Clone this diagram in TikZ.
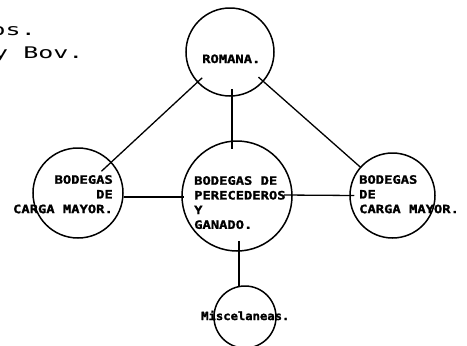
\documentclass[tikz,border=0pt]{standalone}
\usepackage{fontspec}
\newfontfamily\lblfont[FakeStretch=1.2, BoldFeatures={FakeBold=1.5}]{DejaVu Sans Mono}
\newfontfamily\misfont[FakeStretch=1.08, BoldFeatures={FakeBold=1.8}]{DejaVu Sans Mono}
\newfontfamily\topfont[FakeStretch=1.56]{DejaVu Sans Mono}
\usetikzlibrary{calc}
\begin{document}
\begin{tikzpicture}[x=1pt,y=-1pt,
  circ/.style={draw, circle, minimum size=#1, inner sep=0pt, line width=1.5pt},
  conn/.style={line width=1.3pt},
  lbl/.style={inner sep=0pt, font=\lblfont\bfseries\fontsize{11.5}{14.7}\selectfont},
  mlbl/.style={inner sep=0pt, font=\misfont\bfseries\fontsize{11.3}{12}\selectfont},
  toptxt/.style={inner sep=0pt, anchor=base west, font=\topfont\fontsize{16}{16}\selectfont}]
\useasboundingbox[fill=white] (0,0) rectangle (467,346);
% circles
\node[circ=88pt] (rom) at (230,52) {};
\node[circ=90pt] (lft) at (78,193) {};
\node[circ=110pt] (ctr) at (237,196) {};
\node[circ=85pt] (rgt) at (392.5,195.5) {};
\node[circ=62pt] (mis) at (245,317) {};
% connectors
\draw[conn, shorten <=38pt, shorten >=32pt] (rom.center) -- (lft.center);
\draw[conn, shorten <=38pt, shorten >=42pt] (rom.center) -- (rgt.center);
\draw[conn] ($(rom.south)+(2,-8)$) -- ($(rom.south |- ctr.north)+(2,9)$);
\draw[conn] ($(lft.east)+(0,4)$) -- ($(ctr.west)+(3,1)$);
\draw[conn] ($(ctr.east)+(-9,-1)$) -- ($(rgt.west)+(5,0)$);
\draw[conn] ($(ctr.south)+(2,-11)$) -- ($(ctr.south |- mis.north)+(2,2)$);
% labels
\node[lbl, anchor=base west] (trom) at (202,63) {ROMANA.};
\node[lbl, align=left, anchor=north west] (tctr) at (194,176) {BODEGAS DE\\PERECEDEROS\\Y\\GANADO.};
\node[lbl, align=right, anchor=north east] (tlft) at (113,175) {BODEGAS\\DE\\CARGA MAYOR.};
\node[lbl, align=left, anchor=north west] (trgt) at (359,175) {BODEGAS\\DE\\CARGA MAYOR.};
\node[mlbl, anchor=base west] (tmis) at (201,320) {Miscelaneas.};
% cut-off text at top left
\node[toptxt] (t1) at (-9.5,35) {os.};
\node[toptxt] (t2) at (-7,58) {y Bov.};
\end{tikzpicture}
\end{document}
